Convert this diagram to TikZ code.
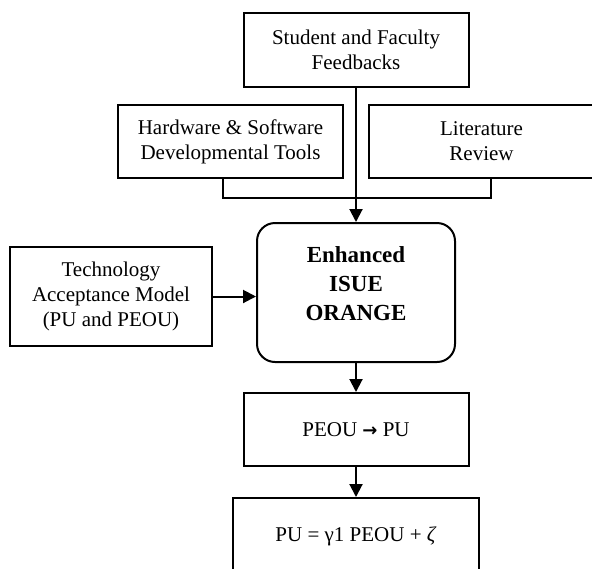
\documentclass[tikz,border=0pt]{standalone}
\usepackage{fontspec}
\setmainfont{Liberation Serif}
\newfontfamily\arrowfont{DejaVu Sans}
\usetikzlibrary{arrows.meta}
\begin{document}
\begin{tikzpicture}[x=0.5pt,y=-0.5pt,
  box/.style={draw,line width=1pt,align=center,inner sep=0pt,font=\fontsize{10.5}{12.6}\selectfont},
  corebox/.style={box,rounded corners=9pt,minimum width=99pt,minimum height=69.5pt},
  link/.style={line width=1pt,-{Triangle[length=6.5pt,width=6.5pt]}}]
 \useasboundingbox (0,0) rectangle (592,568);
 \clip (0,0) rectangle (592,568);
 % inputs
 \node[box,minimum width=112.5pt,minimum height=37pt] (fb) at (356,50) {Student and Faculty\\Feedbacks};
 \node[box,minimum width=112.5pt,minimum height=36.5pt] (hw) at (230.5,141.5) {Hardware \& Software\\Developmental Tools};
 \node[box,minimum width=112.5pt,minimum height=36.5pt] (lit) at (481.5,141.5) {Literature\\Review};
 \node[box,minimum width=101pt,minimum height=49.5pt] (tam) at (111,296.5) {Technology\\Acceptance Model\\(PU and PEOU)};
 % model
 \node[corebox] (core) at (356,292.5) {};
 \node[align=center,inner sep=0pt,font=\fontsize{11.5}{14.5}\selectfont\bfseries] (coretxt) at ([yshift=4.25pt]core.center) {Enhanced\\ISUE\\ORANGE};
 \node[box,minimum width=112.5pt,minimum height=36.5pt] (peou) at (356,429.5) {PEOU {\arrowfont\bfseries\fontsize{9}{10}\selectfont →} PU};
 \node[box,minimum width=123pt,minimum height=38.5pt] (eq) at (356,536.5) {PU = γ1 PEOU + \textit{ζ}};
 % bracket under the two side boxes
 \coordinate (bl) at (223,198);
 \coordinate (br) at (491,198);
 \draw[line width=1pt] (bl |- hw.south) -- (bl) -- (br) -- (br |- lit.south);
 % arrows
 \draw[link] (fb.south) -- (core.north);
 \draw[link] (tam.east) -- (tam.east -| core.west);
 \draw[link] (core.south) -- (peou.north);
 \draw[link] (peou.south) -- (eq.north);
\end{tikzpicture}
\end{document}
